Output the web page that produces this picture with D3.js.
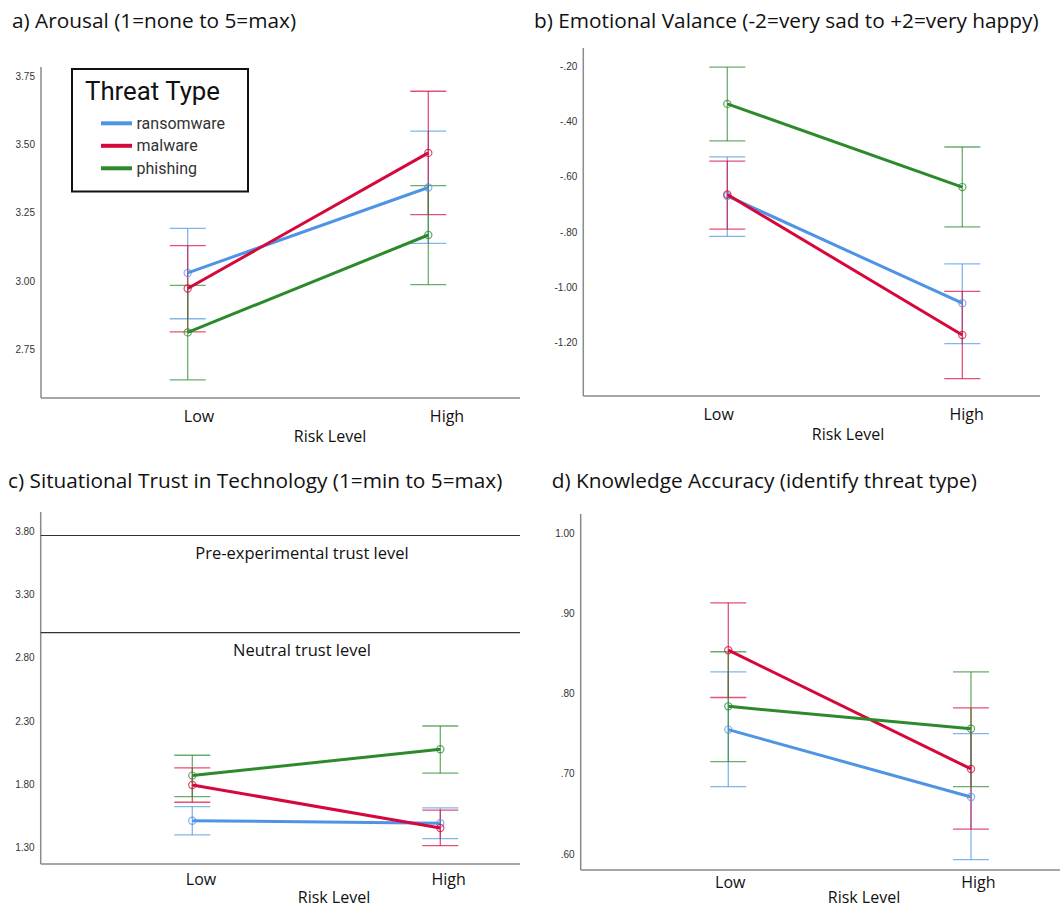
<!DOCTYPE html>
<html><head><meta charset="utf-8">
<script src="https://cdn.jsdelivr.net/npm/d3@7"></script>
<style>body{margin:0;background:#fff}svg{display:block}</style>
</head><body>
<svg id="chart" width="1060" height="908"></svg>
<script>
// ---- data ----
const categories = ["Low", "High"];
const seriesNames = ["ransomware", "malware", "phishing"];
const seriesColors = ["#4f94e4", "#d6083b", "#2c8a2c"];

// [Low, High] per series (ransomware, malware, phishing)
const arousalMean  = [[3.030, 3.343], [2.973, 3.470], [2.812, 3.169]];
const arousalLower = [[2.862, 3.138], [2.814, 3.244], [2.638, 2.987]];
const arousalUpper = [[3.193, 3.550], [3.130, 3.696], [2.984, 3.350]];
const arousalTicks = [2.75, 3.00, 3.25, 3.50, 3.75];

const valenceMean  = [[-0.669, -1.057], [-0.664, -1.172], [-0.336, -0.637]];
const valenceLower = [[-0.815, -1.203], [-0.789, -1.330], [-0.470, -0.781]];
const valenceUpper = [[-0.528, -0.915], [-0.543, -1.014], [-0.203, -0.492]];
const valenceTicks = [-0.20, -0.40, -0.60, -0.80, -1.00, -1.20];

const trustMean  = [[1.511, 1.490], [1.794, 1.453], [1.868, 2.077]];
const trustLower = [[1.398, 1.369], [1.657, 1.313], [1.701, 1.887]];
const trustUpper = [[1.622, 1.612], [1.929, 1.594], [2.029, 2.261]];
const trustTicks = [1.30, 1.80, 2.30, 2.80, 3.30, 3.80];
const trustRefValues = [3.77, 3.0];
const trustRefLabels = ["Pre-experimental trust level", "Neutral trust level"];

const knowMean  = [[0.755, 0.671], [0.854, 0.706], [0.784, 0.756]];
const knowLower = [[0.684, 0.593], [0.795, 0.631], [0.715, 0.684]];
const knowUpper = [[0.827, 0.750], [0.913, 0.782], [0.852, 0.827]];
const knowTicks = [0.60, 0.70, 0.80, 0.90, 1.00];

const panelTitles = [
  "a) Arousal (1=none to 5=max)",
  "b) Emotional Valance (-2=very sad to +2=very happy)",
  "c) Situational Trust in Technology (1=min to 5=max)",
  "d) Knowledge Accuracy (identify threat type)"
];
const xAxisTitle = "Risk Level";
const legendTitle = "Threat Type";

// ---- layout ----
const svg = d3.select("#chart");
const fmtTick = v => d3.format(".2f")(v).replace("\u2212", "-").replace(/^(-?)0\./, "$1.");

const panels = [
  {title: panelTitles[0], mean: arousalMean, lo: arousalLower, hi: arousalUpper, ticks: arousalTicks,
   titleX: 12, titleY: 28, axisX: 41, top: 67, bottom: 398, right: 520,
   tickTop: 3.75, tickTopY: 76.5, tickBot: 2.75, tickBotY: 349.3,
   ptX: [187.7, 428.3], lblX: [199, 447], lblY: 422, axTitleX: 330, axTitleY: 442},
  {title: panelTitles[1], mean: valenceMean, lo: valenceLower, hi: valenceUpper, ticks: valenceTicks,
   titleX: 534, titleY: 28, axisX: 583.3, top: 48, bottom: 396, right: 1040,
   tickTop: -0.20, tickTopY: 66.3, tickBot: -1.20, tickBotY: 342.7,
   ptX: [727.3, 962.3], lblX: [718.7, 966.7], lblY: 420, axTitleX: 848, axTitleY: 440},
  {title: panelTitles[2], mean: trustMean, lo: trustLower, hi: trustUpper, ticks: trustTicks,
   titleX: 8, titleY: 488, axisX: 40.7, top: 512, bottom: 864, right: 520,
   tickTop: 3.80, tickTopY: 531.7, tickBot: 1.30, tickBotY: 847.3,
   ptX: [192.3, 440.3], lblX: [201, 448.7], lblY: 885, axTitleX: 334, axTitleY: 903, refs: true},
  {title: panelTitles[3], mean: knowMean, lo: knowLower, hi: knowUpper, ticks: knowTicks,
   titleX: 551.7, titleY: 488, axisX: 580.7, top: 514, bottom: 870, right: 1060,
   tickTop: 1.00, tickTopY: 533, tickBot: 0.60, tickBotY: 854,
   ptX: [728.3, 971], lblX: [730.3, 978.3], lblY: 888, axTitleX: 864, axTitleY: 903}
];

panels.forEach(p => {
  const g = svg.append("g");
  const y = d3.scaleLinear().domain([p.tickBot, p.tickTop]).range([p.tickBotY, p.tickTopY]);
  const x = d3.scalePoint().domain(categories).range(p.ptX);
  const xl = d3.scalePoint().domain(categories).range(p.lblX);

  g.append("text").attr("x", p.titleX).attr("y", p.titleY)
    .attr("font-family", "'Open Sans', sans-serif").attr("font-size", 20.8).attr("fill", "#111")
    .text(p.title);

  // axes lines
  g.append("line").attr("x1", p.axisX).attr("x2", p.axisX).attr("y1", p.top).attr("y2", p.bottom)
    .attr("stroke", "#8a8a8a").attr("stroke-width", 1.5);
  g.append("line").attr("x1", p.axisX).attr("x2", p.right).attr("y1", p.bottom).attr("y2", p.bottom)
    .attr("stroke", "#8a8a8a").attr("stroke-width", 1.5);

  // y tick labels
  g.selectAll(".yt").data(p.ticks).enter().append("text")
    .attr("x", p.axisX - 6).attr("y", d => y(d)).attr("dy", "0.35em")
    .attr("text-anchor", "end").attr("font-family", "'Liberation Sans', Arial, sans-serif")
    .attr("font-size", 10).attr("fill", "#333").text(fmtTick);

  // x labels
  g.selectAll(".xt").data(categories).enter().append("text")
    .attr("x", d => xl(d)).attr("y", p.lblY).attr("text-anchor", "middle")
    .attr("font-family", "'Open Sans', sans-serif").attr("font-size", 16).attr("fill", "#111")
    .text(d => d);
  g.append("text").attr("x", p.axTitleX).attr("y", p.axTitleY).attr("text-anchor", "middle")
    .attr("font-family", "'Open Sans', sans-serif").attr("font-size", 16).attr("fill", "#111")
    .text(xAxisTitle);

  if (p.refs) {
    trustRefValues.forEach((v, i) => {
      g.append("line").attr("x1", p.axisX).attr("x2", p.right).attr("y1", y(v)).attr("y2", y(v))
        .attr("stroke", "#333").attr("stroke-width", 1.2);
      g.append("text").attr("x", 302).attr("y", y(v) + 23.5).attr("text-anchor", "middle")
        .attr("font-family", "'Open Sans', sans-serif").attr("font-size", 16.5).attr("fill", "#111")
        .text(trustRefLabels[i]);
    });
  }

  // series
  const line = d3.line().x((d, i) => x(categories[i])).y(d => y(d));
  seriesNames.forEach((s, si) => {
    const col = seriesColors[si];
    const sg = g.append("g");
    categories.forEach((c, ci) => {
      const cx = x(c), lo = p.lo[si][ci], hi = p.hi[si][ci];
      sg.append("line").attr("x1", cx).attr("x2", cx).attr("y1", y(lo)).attr("y2", y(hi))
        .attr("stroke", col).attr("stroke-opacity", 0.7).attr("stroke-width", 1.3);
      [lo, hi].forEach(v => sg.append("line").attr("x1", cx - 18).attr("x2", cx + 18)
        .attr("y1", y(v)).attr("y2", y(v))
        .attr("stroke", col).attr("stroke-opacity", 0.7).attr("stroke-width", 1.3));
    });
  });
  seriesNames.forEach((s, si) => {
    const col = seriesColors[si];
    g.append("path").datum(p.mean[si]).attr("d", line).attr("fill", "none")
      .attr("stroke", col).attr("stroke-width", 3);
    g.selectAll(null).data(p.mean[si]).enter().append("circle")
      .attr("cx", (d, i) => x(categories[i])).attr("cy", d => y(d)).attr("r", 3.6)
      .attr("fill", "none").attr("stroke", col).attr("stroke-opacity", 0.75).attr("stroke-width", 1.2);
  });
});

// legend in panel a
const lg = svg.append("g");
lg.append("rect").attr("x", 72).attr("y", 69).attr("width", 176).attr("height", 122.5)
  .attr("fill", "#fff").attr("stroke", "#111").attr("stroke-width", 2);
lg.append("text").attr("x", 85).attr("y", 99.5).attr("font-family", "Roboto, sans-serif")
  .attr("font-size", 25.8).attr("fill", "#111").text(legendTitle);
seriesNames.forEach((s, i) => {
  const ly = 123.3 + i * 22.5;
  lg.append("line").attr("x1", 101).attr("x2", 132).attr("y1", ly).attr("y2", ly)
    .attr("stroke", seriesColors[i]).attr("stroke-width", 4);
  lg.append("text").attr("x", 136.5).attr("y", ly + 5.5).attr("font-family", "Roboto, sans-serif")
    .attr("font-size", 16).attr("fill", "#333").text(s);
});
</script>
</body></html>
